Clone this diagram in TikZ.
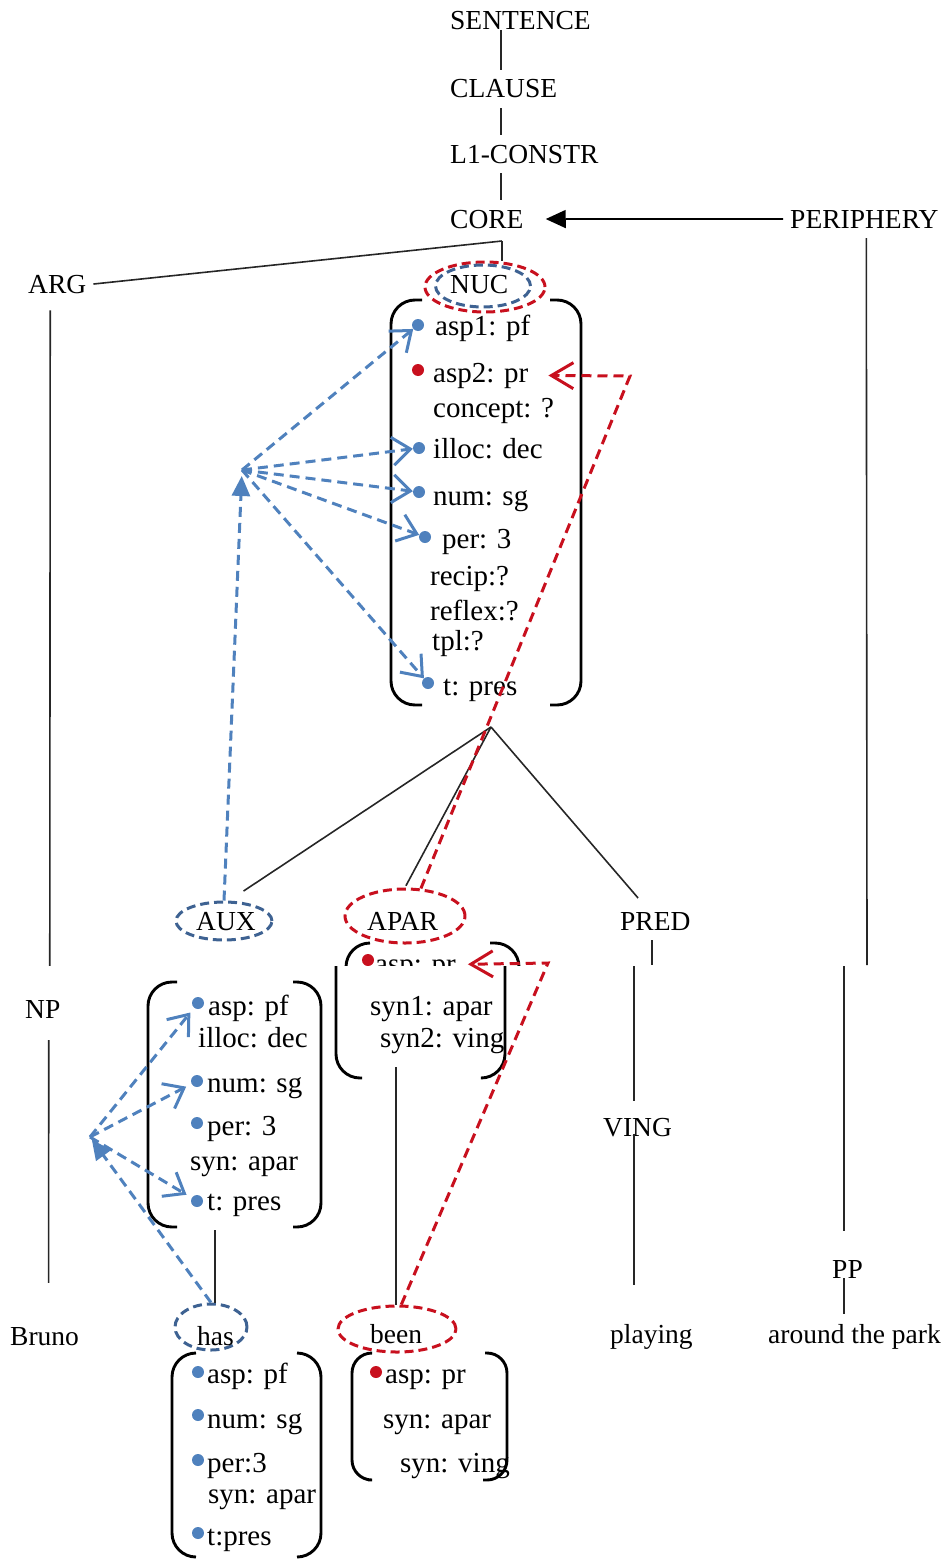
\documentclass[tikz,border=0pt]{standalone}
\usepackage{fontspec}
\setmainfont{Liberation Serif}
\usetikzlibrary{arrows.meta,shapes.geometric}
\definecolor{ptblue}{RGB}{79,129,189}
\definecolor{ringblue}{RGB}{62,98,146}
\definecolor{ptred}{RGB}{200,16,30}

\begin{document}
\begin{tikzpicture}[x=1pt,y=-1pt]
  \tikzstyle{cat}=[anchor=base west,inner xsep=0pt,inner ysep=10pt,font=\fontsize{27.5}{33}\selectfont]
  \tikzstyle{feat}=[anchor=base west,inner sep=0pt,font=\fontsize{29}{34}\selectfont]
  \tikzstyle{tree}=[draw=black!85,line width=1.6pt]
  \tikzstyle{brack}=[draw=black,line width=2.9pt,rounded corners=24pt]
  \tikzstyle{bring}=[ellipse,draw=ringblue,line width=3pt,dash pattern=on 9pt off 5pt,inner sep=0pt]
  \tikzstyle{rring}=[ellipse,draw=ptred,line width=3pt,dash pattern=on 9pt off 5pt,inner sep=0pt]
  \tikzstyle{bdot}=[circle,fill=ptblue,inner sep=0pt,minimum size=12pt]
  \tikzstyle{rdot}=[circle,fill=ptred,inner sep=0pt,minimum size=12pt]
  \tikzstyle{blink}=[draw=ptblue,line width=3pt,dash pattern=on 10pt off 6pt,-{Straight Barb[length=18pt,width=28pt]}]
  \tikzstyle{bup}=[draw=ptblue,line width=3pt,dash pattern=on 10pt off 6pt,-{Triangle[length=20pt,width=18pt]}]
  \tikzstyle{rlink}=[draw=ptred,line width=3pt,dash pattern=on 10pt off 6pt,-{Straight Barb[length=22pt,width=26pt]}]

  \useasboundingbox (0,0) rectangle (944,1560);

  \node[cat] (SENTENCE)  at (450,30)   {SENTENCE};
  \node[cat] (CLAUSE)    at (450,98)   {CLAUSE};
  \node[cat] (L1)        at (450,163)  {L1-CONSTR};
  \node[cat] (CORE)      at (450,228)  {CORE};
  \node[cat] (PERIPHERY) at (790,228)  {PERIPHERY};
  \node[cat] (ARG)       at (28,293)   {ARG};
  \node[cat] (NP)        at (25,1018)  {NP};
  \node[cat] (PRED)      at (620,930)  {PRED};
  \node[cat] (VING)      at (603,1136) {VING};
  \node[cat] (PP)        at (832,1278) {PP};
  \node[cat] (Bruno)     at (10,1345)  {Bruno};
  \node[cat] (playing)   at (610,1343) {playing};
  \node[cat] (park)      at (768,1343) {around the park};

  \node[rring,minimum width=120pt,minimum height=50pt] (NUCr) at (485,287) {};
  \node[bring,minimum width=95pt,minimum height=42pt]  (NUCb) at (483,286) {};
  \node[cat] (NUC)  at (450,293)  {NUC};
  \node[bring,minimum width=96pt,minimum height=38pt]  (AUXo) at (224,921) {};
  \node[cat] (AUX)  at (196,930)  {AUX};
  \node[rring,minimum width=120pt,minimum height=54pt] (APARo) at (405,916) {};
  \node[cat] (APAR) at (367,930)  {APAR};
  \node[bring,minimum width=72pt,minimum height=46pt]  (haso) at (211,1327) {};
  \node[cat] (has)  at (197,1345) {has};
  \node[rring,minimum width=118pt,minimum height=46pt] (beeno) at (397,1329) {};
  \node[cat] (been) at (370,1343) {been};

  % NUC features
  \draw[brack] (422,300) -| (391,705) -- (422,705);
  \draw[brack] (550,300) -| (581,705) -- (550,705);
  \node[bdot] (nasp1) at (418,325) {};
  \node[rdot] (nasp2) at (418,370) {};
  \node[bdot] (nillo) at (419,448) {};
  \node[bdot] (nnum)  at (419,492) {};
  \node[bdot] (nper)  at (425,537) {};
  \node[bdot] (nt)    at (428,683) {};
  \node[feat] (nasp1t) at (435,335) {asp1: pf};
  \node[feat] (nasp2t) at (433,382) {asp2: pr};
  \node[feat] (nconc)  at (433,417) {concept: ?};
  \node[feat] (nillot) at (433,458) {illoc: dec};
  \node[feat] (nnumt)  at (433,505) {num: sg};
  \node[feat] (npert)  at (442,548) {per: 3};
  \node[feat] (nrecip) at (430,585) {recip:?};
  \node[feat] (nrefl)  at (430,620) {reflex:?};
  \node[feat] (ntpl)   at (432,650) {tpl:?};
  \node[feat] (ntt)    at (443,695) {t: pres};

  % AUX features
  \draw[brack] (177,982) -| (148,1227) -- (177,1227);
  \draw[brack] (293,982) -| (321,1227) -- (293,1227);
  \node[bdot] (aasp) at (198,1003) {};
  \node[bdot] (anum) at (197,1081) {};
  \node[bdot] (aper) at (197,1123) {};
  \node[bdot] (at)   at (197,1201) {};
  \node[feat] (aaspt) at (208,1015) {asp: pf};
  \node[feat] (aillo) at (198,1047) {illoc: dec};
  \node[feat] (anumt) at (207,1092) {num: sg};
  \node[feat] (apert) at (207,1135) {per: 3};
  \node[feat] (asyn)  at (190,1170) {syn: apar};
  \node[feat] (att)   at (207,1210) {t: pres};

  % APAR features
  \draw[brack] (370,943) -| (346,995);
  \draw[brack] (490,943) -| (519,995);
  \node[rdot] (pasp) at (368,960) {};
  \node[feat] (paspt) at (375,973) {asp: pr};
  \fill[white] (333,966) rectangle (526,1088);
  \draw[brack] (336,966) |- (362,1078);
  \draw[brack] (505,966) |- (482,1078);
  \node[feat] (psyn1) at (370,1015) {syn1: apar};
  \node[feat] (psyn2) at (380,1047) {syn2: ving};

  % has features
  \draw[brack] (196,1353) -| (172,1557) -- (196,1557);
  \draw[brack] (297,1353) -| (321,1557) -- (297,1557);
  \node[bdot] (hasp) at (198,1372) {};
  \node[bdot] (hnum) at (198,1415) {};
  \node[bdot] (hper) at (198,1460) {};
  \node[bdot] (ht)   at (198,1533) {};
  \node[feat] (haspt) at (207,1383) {asp: pf};
  \node[feat] (hnumt) at (207,1428) {num: sg};
  \node[feat] (hpert) at (207,1472) {per:3};
  \node[feat] (hsyn)  at (208,1503) {syn: apar};
  \node[feat] (htt)   at (207,1545) {t:pres};

  % been features
  \draw[brack,rounded corners=20pt] (370,1353) -| (352,1480) -- (368,1480);
  \draw[brack,rounded corners=20pt] (485,1353) -| (507,1480) -- (483,1480);
  \node[rdot] (basp) at (376,1372) {};
  \node[feat] (baspt) at (385,1383) {asp: pr};
  \node[feat] (bsyn1) at (383,1428) {syn: apar};
  \node[feat] (bsyn2) at (400,1472) {syn: ving};

  \coordinate (spine)     at (501,0);
  \coordinate (corej)     at (502,241);
  \coordinate (nucj)      at (491,727);
  \coordinate (perend)    at (867,965);
  \coordinate (ppstart)   at (844,966);
  \coordinate (predcol)   at (652,965);
  \coordinate (vingcol)   at (634,966);
  \coordinate (aparfoot)  at (396,1067);
  \coordinate (auxfoot)   at (215,1230);
  \coordinate (hubN)      at (242,470);
  \coordinate (hubA)      at (90,1137);
  \coordinate (rcN)       at (630,376);
  \coordinate (rcA)       at (548,963);

  \draw[tree] (SENTENCE.base -| spine) -- (CLAUSE.north -| spine);
  \draw[tree] (CLAUSE.south -| spine) -- (L1.north -| spine);
  \draw[tree] (L1.south -| spine) -- (CORE.north -| spine);
  \draw[line width=1.6pt,-{Triangle[length=20pt,width=18pt]}] ([xshift=-7pt]PERIPHERY.west) -- ([xshift=22pt]CORE.east);
  \draw[tree] (corej) -- ([xshift=7pt]ARG.east);
  \draw[tree] (corej) -- (corej |- NUCr.north);
  \draw[tree] ([xshift=-7pt,yshift=-7pt]ARG.south) -- ([xshift=7pt,yshift=24pt]NP.north);
  \draw[tree] ([xshift=6pt,yshift=-12pt]NP.south) -- ([xshift=4pt,yshift=34pt]Bruno.north);
  \draw[tree] ([xshift=2pt]PERIPHERY.south) -- (perend);
  \draw[tree,shorten >=19pt] (ppstart) -- (ppstart |- PP.north);
  \draw[tree,shorten <=-10pt] (PP.south -| ppstart) -- (park.north -| ppstart);
  \draw[tree] (PRED.south -| predcol) -- (predcol);
  \draw[tree,shorten >=7pt] (vingcol) -- (vingcol |- VING.north);
  \draw[tree,shorten <=-13pt,shorten >=29pt] (VING.south -| vingcol) -- (playing.north -| vingcol);
  \draw[tree] (nucj) -- ([xshift=8pt,yshift=10pt]AUXo.60);
  \draw[tree,shorten >=2pt] (nucj) -- (APARo.north);
  \draw[tree,shorten >=5pt] (nucj) -- ([xshift=-14pt]PRED.north);
  \draw[tree] (aparfoot) -- (aparfoot |- beeno.north);
  \draw[tree] (auxfoot) -- (auxfoot |- haso.north);

  \draw[bup,shorten >=6pt] (AUXo.north) -- (hubN);
  \draw[blink] (hubN) -- (nasp1);
  \draw[blink] (hubN) -- (nillo);
  \draw[blink] (hubN) -- (nnum);
  \draw[blink] (hubN) -- (nper);
  \draw[blink] (hubN) -- (nt);

  \draw[bup,shorten >=3pt] (haso.north) -- (hubA);
  \draw[blink,shorten >=6pt] (hubA) -- (aasp);
  \draw[blink,shorten >=6pt] (hubA) -- (anum);
  \draw[blink,shorten >=6pt] (hubA) -- (at);

  \draw[rlink] (APARo.60) -- (rcN) -- ([xshift=20pt]nasp2t.east);
  \draw[rlink] (beeno.80) -- (rcA) -- ([xshift=12pt,yshift=5pt]paspt.east);
\end{tikzpicture}
\end{document}
